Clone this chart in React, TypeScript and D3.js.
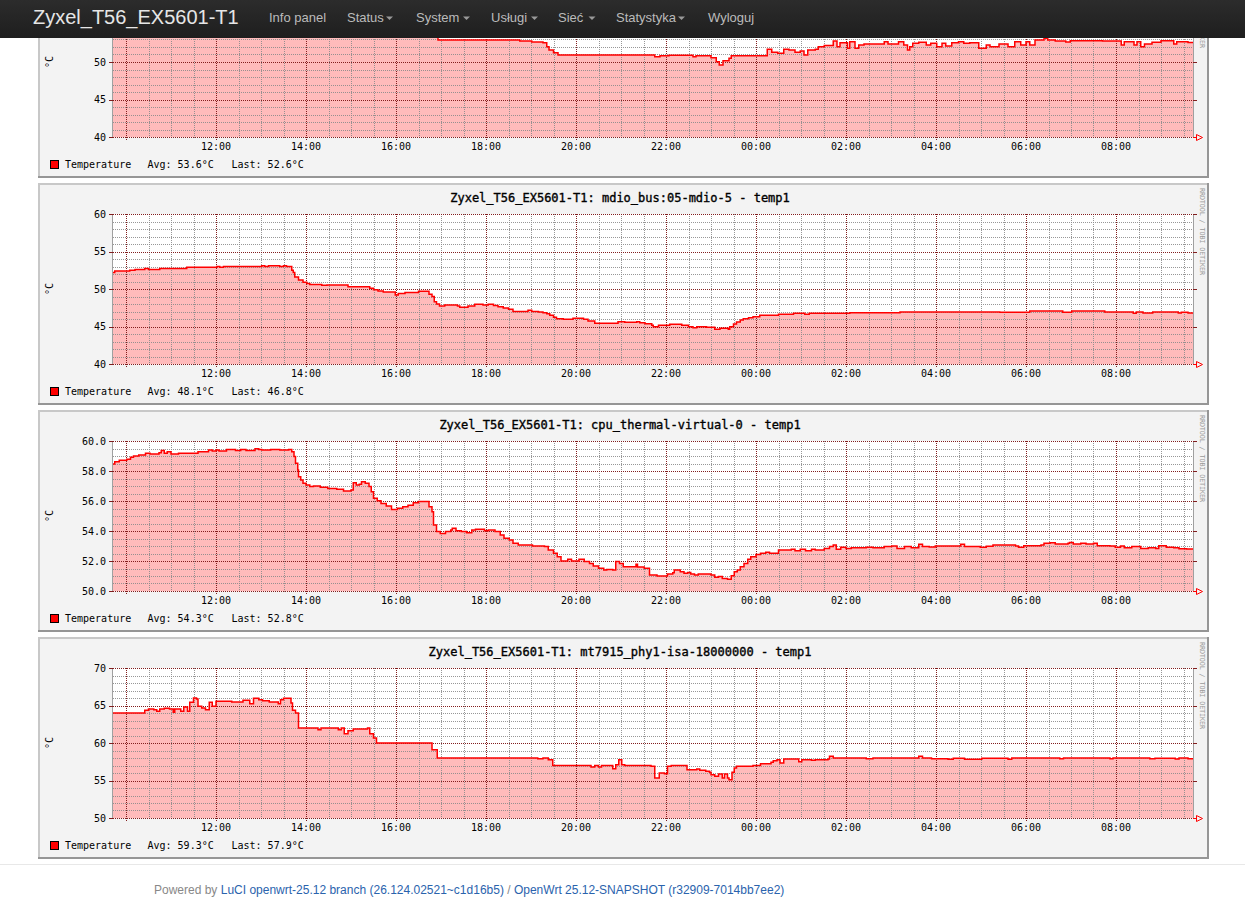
import React from "react";
import * as d3 from "d3";

type Pt = [string, number];

// ---- Data (time of day, °C) ----
const topSensorSeries: Pt[] = [
  ["09:42", 56.0], ["10:20", 56.4], ["11:10", 56.8], ["12:30", 57.0], ["13:45", 55.6], ["14:30", 55.0],
  ["15:40", 54.2], ["16:30", 53.6], ["16:56", 52.93], ["18:45", 52.8], ["19:01", 52.67], ["19:16", 52.58],
  ["19:21", 52.04], ["19:24", 51.6], ["19:30", 51.24], ["19:36", 50.93], ["21:45", 50.71], ["21:52", 50.84],
  ["22:04", 50.89], ["22:36", 50.71], ["22:40", 50.84], ["23:00", 50.57], ["23:07", 50.04], ["23:11", 49.6],
  ["23:16", 50.18], ["23:24", 50.49], ["23:27", 50.84], ["00:15", 51.69], ["00:21", 51.29], ["00:29", 51.16],
  ["00:37", 51.69], ["00:44", 51.6], ["00:52", 51.29], ["00:59", 51.47], ["01:04", 50.93], ["01:09", 51.6],
  ["01:19", 51.69], ["01:23", 52.04], ["01:31", 52.2], ["01:43", 52.8], ["01:48", 52.04], ["01:52", 52.58],
  ["02:02", 51.82], ["02:05", 52.71], ["02:12", 51.82], ["02:17", 52.27], ["02:24", 52.4], ["02:51", 52.71],
  ["02:56", 52.4], ["03:10", 52.71], ["03:17", 52.27], ["03:22", 51.6], ["03:25", 52.04], ["03:29", 52.49],
  ["03:37", 52.62], ["03:47", 52.27], ["03:53", 52.49], ["04:01", 52.04], ["04:08", 52.49], ["04:13", 52.13],
  ["04:21", 52.58], ["04:30", 52.71], ["04:37", 52.49], ["04:45", 52.58], ["04:57", 51.82], ["05:07", 52.27],
  ["05:12", 52.04], ["05:24", 52.4], ["05:36", 52.04], ["05:45", 52.71], ["05:53", 52.27], ["06:00", 52.71],
  ["06:05", 52.27], ["06:12", 52.93], ["06:24", 53.16], ["06:29", 52.93], ["06:39", 52.8], ["06:53", 52.67],
  ["06:59", 52.84], ["07:42", 52.8], ["08:07", 52.27], ["08:11", 52.71], ["08:24", 52.27], ["08:28", 52.71],
  ["08:33", 52.04], ["08:38", 52.4], ["08:48", 52.62], ["09:00", 52.84], ["09:17", 52.4], ["09:21", 52.71],
  ["09:36", 52.6],
];

const mdioSeries: Pt[] = [
  ["09:42", 52.2], ["09:45", 52.4], ["10:05", 52.5], ["10:12", 52.6], ["10:25", 52.75], ["10:30", 52.6],
  ["10:45", 52.75], ["11:21", 52.9], ["12:01", 53.0], ["12:05", 52.9], ["12:10", 53.0], ["13:01", 53.1],
  ["13:05", 53.0], ["13:10", 53.1], ["13:25", 53.0], ["13:30", 53.1], ["13:34", 53.0], ["13:41", 52.5],
  ["13:43", 52.2], ["13:45", 51.6], ["13:50", 51.2], ["13:56", 50.9], ["14:01", 50.75], ["14:05", 50.6],
  ["14:21", 50.5], ["14:28", 50.55], ["14:56", 50.3], ["15:25", 50.1], ["15:30", 49.9], ["15:36", 49.75],
  ["15:43", 49.6], ["15:59", 49.2], ["16:03", 49.4], ["16:12", 49.55], ["16:30", 49.7], ["16:44", 49.3],
  ["16:48", 49.0], ["16:51", 48.3], ["16:54", 48.0], ["16:58", 47.75], ["17:05", 47.87], ["17:22", 47.75],
  ["17:25", 47.56], ["17:36", 47.75], ["17:45", 47.96], ["17:56", 47.87], ["18:03", 47.96], ["18:10", 47.8],
  ["18:16", 47.64], ["18:23", 47.47], ["18:30", 47.3], ["18:36", 47.0], ["18:56", 47.16], ["19:01", 47.0],
  ["19:10", 46.93], ["19:16", 46.84], ["19:21", 46.71], ["19:25", 46.5], ["19:30", 46.22], ["19:34", 46.04],
  ["19:43", 45.96], ["19:56", 46.1], ["20:10", 45.96], ["20:16", 45.73], ["20:25", 45.42], ["20:56", 45.64],
  ["21:05", 45.56], ["21:21", 45.64], ["21:25", 45.5], ["21:32", 45.38], ["21:41", 45.16], ["21:43", 44.98],
  ["21:50", 45.16], ["22:05", 45.29], ["22:21", 45.16], ["22:30", 44.98], ["22:36", 44.84], ["22:41", 44.98],
  ["22:54", 44.89], ["23:05", 44.62], ["23:12", 44.76], ["23:23", 44.62], ["23:25", 44.98], ["23:30", 45.33],
  ["23:34", 45.6], ["23:39", 45.87], ["23:43", 46.04], ["23:50", 46.18], ["23:56", 46.31], ["00:05", 46.5],
  ["00:30", 46.62], ["00:50", 46.76], ["01:05", 46.62], ["01:11", 46.76], ["02:05", 46.85], ["03:12", 46.95],
  ["05:25", 46.9], ["06:05", 47.07], ["06:49", 46.9], ["07:01", 47.07], ["07:45", 46.93], ["08:23", 46.78],
  ["08:27", 46.93], ["08:36", 46.8], ["08:49", 46.93], ["09:23", 46.8], ["09:27", 46.9], ["09:36", 46.8],
];

const cpuSeries: Pt[] = [
  ["09:42", 58.47], ["09:45", 58.62], ["09:51", 58.71], ["10:01", 58.78], ["10:06", 58.91], ["10:10", 59.0],
  ["10:17", 59.07], ["10:26", 59.18], ["10:32", 59.13], ["10:44", 59.22], ["10:47", 59.36], ["10:51", 59.18],
  ["10:55", 59.29], ["11:00", 59.13], ["11:10", 59.18], ["11:36", 59.29], ["11:50", 59.4], ["11:55", 59.33],
  ["12:00", 59.4], ["12:04", 59.33], ["12:14", 59.44], ["12:26", 59.36], ["12:33", 59.44], ["12:40", 59.36],
  ["12:52", 59.49], ["12:57", 59.44], ["13:01", 59.4], ["13:13", 59.44], ["13:25", 59.4], ["13:37", 59.44],
  ["13:41", 59.29], ["13:44", 58.96], ["13:46", 58.51], ["13:49", 58.07], ["13:50", 57.62], ["13:53", 57.4],
  ["13:56", 57.18], ["14:00", 57.07], ["14:05", 56.96], ["14:10", 57.0], ["14:19", 56.91], ["14:29", 56.84],
  ["14:41", 56.78], ["14:50", 56.67], ["15:00", 56.73], ["15:03", 57.22], ["15:07", 57.07], ["15:11", 57.11],
  ["15:14", 57.29], ["15:19", 57.18], ["15:24", 56.96], ["15:27", 56.62], ["15:30", 56.18], ["15:35", 56.02],
  ["15:40", 55.84], ["15:47", 55.67], ["15:54", 55.44], ["16:02", 55.51], ["16:09", 55.62], ["16:16", 55.71],
  ["16:23", 55.89], ["16:30", 55.96], ["16:44", 55.62], ["16:48", 55.29], ["16:50", 54.4], ["16:54", 53.96],
  ["16:59", 53.84], ["17:06", 53.96], ["17:13", 54.07], ["17:15", 54.18], ["17:20", 54.02], ["17:27", 53.96],
  ["17:34", 53.89], ["17:41", 54.07], ["17:46", 54.11], ["17:58", 54.02], ["18:03", 54.07], ["18:12", 53.96],
  ["18:19", 53.73], ["18:24", 53.51], ["18:31", 53.4], ["18:36", 53.18], ["18:43", 53.07], ["19:02", 53.0],
  ["19:18", 52.96], ["19:23", 52.73], ["19:30", 52.51], ["19:35", 52.29], ["19:40", 52.0], ["19:49", 52.11],
  ["19:54", 52.0], ["20:04", 52.11], ["20:11", 51.96], ["20:18", 51.84], ["20:23", 51.67], ["20:30", 51.51],
  ["20:37", 51.4], ["20:41", 51.44], ["20:49", 51.4], ["20:53", 51.96], ["20:58", 51.84], ["21:03", 51.62],
  ["21:20", 51.78], ["21:22", 51.6], ["21:31", 51.51], ["21:38", 51.07], ["21:48", 51.0], ["22:02", 51.13],
  ["22:09", 51.22], ["22:11", 51.4], ["22:19", 51.29], ["22:24", 51.18], ["22:29", 51.24], ["22:33", 51.13],
  ["22:38", 51.07], ["22:43", 51.13], ["23:00", 51.07], ["23:05", 50.91], ["23:10", 50.96], ["23:15", 50.84],
  ["23:22", 50.78], ["23:27", 51.02], ["23:31", 51.29], ["23:35", 51.4], ["23:39", 51.62], ["23:44", 51.84],
  ["23:49", 52.11], ["23:53", 52.29], ["00:00", 52.44], ["00:06", 52.51], ["00:13", 52.58], ["00:18", 52.51],
  ["00:30", 52.73], ["00:47", 52.78], ["00:52", 52.69], ["00:59", 52.78], ["01:06", 52.69], ["01:14", 52.78],
  ["01:19", 52.73], ["01:31", 52.84], ["01:38", 52.96], ["01:43", 53.07], ["01:47", 52.78], ["01:53", 52.91],
  ["02:00", 52.84], ["02:07", 52.89], ["02:27", 52.91], ["02:36", 52.89], ["02:51", 52.96], ["03:01", 53.0],
  ["03:08", 52.84], ["03:18", 52.96], ["03:27", 52.89], ["03:37", 53.11], ["03:42", 52.96], ["03:51", 52.93],
  ["03:59", 53.0], ["04:33", 53.11], ["04:38", 52.96], ["04:59", 52.91], ["05:07", 52.98], ["05:16", 53.07],
  ["05:46", 53.0], ["05:50", 52.91], ["05:57", 53.02], ["06:20", 53.07], ["06:24", 53.18], ["06:32", 53.22],
  ["06:39", 53.13], ["06:56", 53.18], ["06:58", 53.24], ["07:03", 53.13], ["07:13", 53.18], ["07:20", 53.13],
  ["07:30", 53.18], ["07:35", 53.02], ["07:52", 53.0], ["07:59", 52.91], ["08:06", 53.0], ["08:11", 52.89],
  ["08:21", 52.96], ["08:33", 52.84], ["08:43", 52.89], ["08:53", 52.84], ["08:57", 53.02], ["09:07", 52.91],
  ["09:17", 52.89], ["09:24", 52.82], ["09:34", 52.8],
];

const phySeries: Pt[] = [
  ["09:42", 64.0], ["10:25", 64.36], ["10:30", 64.53], ["10:37", 64.44], ["10:41", 64.22], ["10:45", 64.53],
  ["10:51", 64.62], ["10:58", 64.53], ["11:03", 64.09], ["11:05", 64.53], ["11:13", 64.22], ["11:17", 64.8],
  ["11:22", 64.22], ["11:25", 65.42], ["11:30", 66.0], ["11:34", 65.87], ["11:36", 64.89], ["11:41", 64.67],
  ["11:46", 64.44], ["11:51", 65.42], ["11:55", 64.89], ["12:00", 65.56], ["12:21", 65.47], ["12:36", 65.69],
  ["12:45", 65.24], ["12:50", 65.96], ["12:57", 65.78], ["13:02", 65.64], ["13:11", 65.47], ["13:23", 65.24],
  ["13:26", 65.78], ["13:30", 65.96], ["13:40", 65.33], ["13:42", 64.36], ["13:46", 64.0], ["13:50", 62.0],
  ["14:16", 61.78], ["14:20", 62.0], ["14:43", 61.78], ["14:47", 62.0], ["14:51", 61.24], ["14:56", 61.64],
  ["15:03", 61.87], ["15:22", 62.0], ["15:25", 61.24], ["15:30", 60.67], ["15:34", 60.0], ["16:48", 59.11],
  ["16:55", 58.0], ["19:09", 57.91], ["19:16", 58.0], ["19:23", 57.78], ["19:29", 57.0], ["20:20", 56.8],
  ["20:25", 57.0], ["20:30", 56.8], ["20:34", 57.0], ["20:49", 56.58], ["20:53", 57.11], ["20:57", 57.78],
  ["21:01", 57.11], ["21:05", 57.0], ["21:40", 56.89], ["21:45", 55.33], ["21:51", 56.0], ["21:58", 55.91],
  ["22:02", 56.89], ["22:07", 57.0], ["22:28", 56.44], ["22:41", 56.53], ["22:45", 56.36], ["22:53", 56.22],
  ["22:58", 56.09], ["23:00", 55.78], ["23:05", 55.56], ["23:10", 55.87], ["23:15", 55.33], ["23:18", 55.87],
  ["23:22", 55.33], ["23:24", 55.11], ["23:28", 56.09], ["23:31", 56.67], ["23:34", 56.89], ["23:56", 57.0],
  ["00:06", 57.24], ["00:20", 57.42], ["00:23", 57.64], ["00:28", 57.78], ["00:32", 57.33], ["00:37", 57.87],
  ["00:57", 57.51], ["01:01", 57.78], ["01:14", 57.69], ["01:19", 57.78], ["01:36", 57.87], ["01:38", 58.22],
  ["01:43", 58.0], ["02:27", 57.91], ["02:36", 58.0], ["03:37", 58.22], ["03:42", 58.0], ["03:54", 57.91],
  ["04:16", 57.82], ["04:23", 57.96], ["04:38", 57.82], ["05:01", 57.96], ["05:36", 57.82], ["05:41", 58.0],
  ["06:45", 57.91], ["06:50", 58.0], ["07:52", 57.91], ["07:56", 58.0], ["08:45", 57.91], ["08:52", 57.96],
  ["09:19", 57.87], ["09:24", 58.0], ["09:36", 57.9],
];

const panelTitles = [
  "",
  "Zyxel_T56_EX5601-T1: mdio_bus:05-mdio-5 - temp1",
  "Zyxel_T56_EX5601-T1: cpu_thermal-virtual-0 - temp1",
  "Zyxel_T56_EX5601-T1: mt7915_phy1-isa-18000000 - temp1",
];
const avgValues = ["53.6", "48.1", "54.3", "59.3"];
const lastValues = ["52.6", "46.8", "52.8", "57.9"];
const yDomains: [number, number][] = [[40, 60], [40, 60], [50, 60], [50, 70]];
const yMajorSteps = [5, 5, 2, 5];
const yMinorSteps = [1, 1, 0.5, 1];
const yDecimals = [0, 0, 1, 0];
const seriesList = [topSensorSeries, mdioSeries, cpuSeries, phySeries];

const brandLabel = "Zyxel_T56_EX5601-T1";
const navLabels = ["Info panel", "Status", "System", "Usługi", "Sieć", "Statystyka", "Wyloguj"];
const footerLead = "Powered by ";
const footerLuci = "LuCI openwrt-25.12 branch (26.124.02521~c1d16b5)";
const footerSep = " / ";
const footerWrt = "OpenWrt 25.12-SNAPSHOT (r32909-7014bb7ee2)";

// ---- Layout / style ----
const W = 1245;
const H = 915;
const NAV_H = 38;
const PANEL_X = 38;
const PANEL_W = 1171;
const PANEL_H = 222;
const panelTops = [-44, 183, 410, 637];
const PLOT_L = 113;
const PLOT_R = 1193;
const navX = [269, 347, 416, 491, 558, 616, 708];
const navCaretX: (number | null)[] = [null, 389.5, 466.5, 534.5, 592, 681.5, null];

const MONO = "'DejaVu Sans Mono', monospace";
const SANS = "'Liberation Sans', Arial, Helvetica, sans-serif";
const MGRID = "#821e1e";
const GRID = "#8c8c8c";
const AREA = "#ffbbbb";
const LINE = "#ff0000";

const T0 = new Date(2026, 4, 4, 9, 42, 40);
const T1 = new Date(2026, 4, 5, 9, 42, 40);

type P = { date: Date; v: number };

function toPoints(series: Pt[]): P[] {
  let day = 4;
  let prev = -1;
  const pts = series.map(([t, v]) => {
    const [h, m] = t.split(":").map(Number);
    const mins = h * 60 + m;
    if (prev >= 0 && mins < prev) day += 1;
    prev = mins;
    return { date: new Date(2026, 4, day, h, m), v };
  });
  pts.push({ date: T1, v: pts[pts.length - 1].v });
  return pts;
}

const px = (v: number) => Math.round(v) + 0.5;

function Panel({ idx, x }: { idx: number; x: d3.ScaleTime<number, number> }) {
  const top = panelTops[idx];
  const pTop = top + 31;
  const pBot = top + 181;
  const [lo, hi] = yDomains[idx];
  const y = d3.scaleLinear().domain([lo, hi]).range([pBot, pTop]);
  const majors = d3.range(lo, hi + 1e-9, yMajorSteps[idx]);
  const minors = d3
    .range(lo, hi + 1e-9, yMinorSteps[idx])
    .filter((v) => !majors.some((m) => Math.abs(m - v) < 1e-6));
  const majorTimes = d3.timeHour.every(2)!.range(T0, T1);
  const minorTimes = d3
    .timeMinute.every(30)!
    .range(T0, T1)
    .filter((d) => !(d.getMinutes() === 0 && d.getHours() % 2 === 0));
  const pts = toPoints(seriesList[idx]);
  const area = d3
    .area<P>()
    .x((d) => x(d.date))
    .y0(pBot)
    .y1((d) => y(d.v))
    .curve(d3.curveStepAfter);
  const line = d3
    .line<P>()
    .x((d) => x(d.date))
    .y((d) => y(d.v))
    .curve(d3.curveStepAfter);
  const fmtY = d3.format(`.${yDecimals[idx]}f`);
  const fmtT = d3.timeFormat("%H:%M");
  const clipId = `clip-${idx}`;
  const midY = (pTop + pBot) / 2;
  const r = PANEL_X + PANEL_W;
  const b = top + PANEL_H;
  // labels that would sit fully under the fixed navbar are not drawn
  const visibleMajors = majors.filter((v) => y(v) - 6 > NAV_H);

  return (
    <g>
      <rect x={PANEL_X} y={top} width={PANEL_W} height={PANEL_H} fill="#f3f3f3" />
      <path d={`M${PANEL_X + 1},${b} V${top + 1} H${r}`} stroke="#c8c8c8" strokeWidth={2} fill="none" />
      <path d={`M${PANEL_X},${b - 1} H${r - 1} V${top}`} stroke="#969696" strokeWidth={2} fill="none" />
      <clipPath id={clipId}>
        <rect x={PLOT_L} y={pTop} width={PLOT_R - PLOT_L} height={pBot - pTop} />
      </clipPath>
      <rect x={PLOT_L} y={pTop} width={PLOT_R - PLOT_L} height={pBot - pTop} fill="#fff" />
      <path d={area(pts) || ""} fill={AREA} clipPath={`url(#${clipId})`} />
      <g shapeRendering="crispEdges" strokeDasharray="1,1">
        {minors.map((v) => (
          <line key={`hm${v}`} x1={PLOT_L} x2={PLOT_R} y1={px(y(v))} y2={px(y(v))} stroke={GRID} strokeOpacity={0.9} />
        ))}
        {minorTimes.map((d) => (
          <line key={`vm${+d}`} x1={px(x(d))} x2={px(x(d))} y1={pTop} y2={pBot + 2} stroke={GRID} strokeOpacity={0.9} />
        ))}
        {majors.map((v) => (
          <line key={`hM${v}`} x1={PLOT_L} x2={PLOT_R} y1={px(y(v))} y2={px(y(v))} stroke={MGRID} />
        ))}
        {majorTimes.map((d) => (
          <line key={`vM${+d}`} x1={px(x(d))} x2={px(x(d))} y1={pTop} y2={pBot + 3} stroke={MGRID} />
        ))}
      </g>
      <path
        d={line(pts) || ""}
        fill="none"
        stroke={LINE}
        strokeWidth={1.5}
        clipPath={`url(#${clipId})`}
      />
      <g shapeRendering="crispEdges">
        <line x1={PLOT_L - 0.5} x2={PLOT_L - 0.5} y1={pTop} y2={pBot} stroke="#a0a0a0" />
        <line x1={PLOT_R + 0.5} x2={PLOT_R + 0.5} y1={pTop} y2={pBot} stroke="#a0a0a0" />
        {majors.map((v) => (
          <g key={`t${v}`}>
            <line x1={PLOT_L - 4} x2={PLOT_L} y1={px(y(v))} y2={px(y(v))} stroke={MGRID} />
            <line x1={PLOT_R} x2={PLOT_R + 4} y1={px(y(v))} y2={px(y(v))} stroke={MGRID} />
          </g>
        ))}
        <line x1={PLOT_R} x2={PLOT_R + 4} y1={pBot + 0.5} y2={pBot + 0.5} stroke={LINE} />
      </g>
      <path
        d={`M${PLOT_R + 3.5},${pBot - 2.5} L${PLOT_R + 9.5},${pBot + 0.5} L${PLOT_R + 3.5},${pBot + 3.5} Z`}
        fill="none"
        stroke={LINE}
        strokeWidth={1}
      />
      <g fontFamily={MONO} fontSize={10} fill="#000">
        {visibleMajors.map((v) => (
          <text key={`yl${v}`} x={106} y={y(v) + 3.5} textAnchor="end">
            {fmtY(v)}
          </text>
        ))}
        {majorTimes
          .filter((d) => x(d) - 16 >= PLOT_L)
          .map((d) => (
            <text key={`xl${+d}`} x={x(d)} y={top + 194} textAnchor="middle">
              {fmtT(d)}
            </text>
          ))}
        <text transform={`translate(53,${midY}) rotate(-90)`} textAnchor="middle">
          °C
        </text>
        <rect x={50.5} y={top + 204.5} width={8} height={8} fill="#ff0000" stroke="#000" strokeWidth={1} />
        <text x={65} y={top + 212}>Temperature</text>
        <text x={147.5} y={top + 212}>{`Avg: ${avgValues[idx]}°C`}</text>
        <text x={231.5} y={top + 212}>{`Last: ${lastValues[idx]}°C`}</text>
      </g>
      {panelTitles[idx] && (
        <text
          x={620}
          y={top + 19}
          textAnchor="middle"
          fontFamily={MONO}
          fontSize={12}
          fill="#000"
          stroke="#000"
          strokeWidth={0.35}
        >
          {panelTitles[idx]}
        </text>
      )}
      <text
        transform={`translate(1199.5,${top + 5}) rotate(90)`}
        fontFamily={MONO}
        fontSize={6.8}
        fill="#9a9a9a"
        textLength={87}
      >
        RRDTOOL / TOBI OETIKER
      </text>
    </g>
  );
}

export default function App() {
  const x = d3.scaleTime().domain([T0, T1]).range([PLOT_L, PLOT_R]);
  return (
    <svg
      width={W}
      height={H}
      viewBox={`0 0 ${W} ${H}`}
      style={{ position: "absolute", left: 0, top: 0, display: "block" }}
    >
      <defs>
        <linearGradient id="navbg" x1="0" y1="0" x2="0" y2="1">
          <stop offset="0" stopColor="#2c2c2c" />
          <stop offset="1" stopColor="#1e1e1e" />
        </linearGradient>
      </defs>
      <rect width={W} height={H} fill="#fff" />
      {panelTops.map((_, i) => (
        <Panel key={i} idx={i} x={x} />
      ))}
      <line x1={0} x2={W} y1={864.5} y2={864.5} stroke="#e8e8e8" />
      <text x={154} y={894} fontFamily={SANS} fontSize={12}>
        <tspan fill="#888">{footerLead}</tspan>
        <tspan fill="#2a63ad">{footerLuci}</tspan>
        <tspan fill="#888">{footerSep}</tspan>
        <tspan fill="#2a63ad">{footerWrt}</tspan>
      </text>
      <rect x={0} y={0} width={W} height={NAV_H} fill="url(#navbg)" />
      <text x={33} y={24} fontFamily={SANS} fontSize={20} fill="#e6e6e6">
        {brandLabel}
      </text>
      {navLabels.map((label, i) => (
        <g key={label}>
          <text x={navX[i]} y={22} fontFamily={SANS} fontSize={13} fill="#bbbbbb">
            {label}
          </text>
          {navCaretX[i] !== null && (
            <path
              d={`M${(navCaretX[i] as number) - 3.5},16.5 L${(navCaretX[i] as number) + 3.5},16.5 L${navCaretX[i]},20 Z`}
              fill="#999"
            />
          )}
        </g>
      ))}
    </svg>
  );
}
